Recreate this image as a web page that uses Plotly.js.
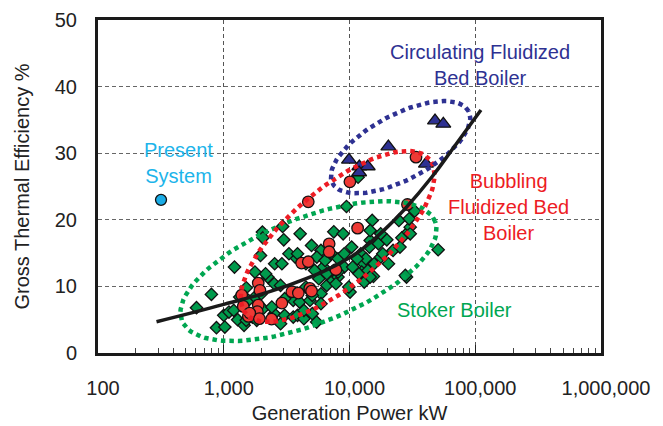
<!DOCTYPE html>
<html>
<head>
<meta charset="utf-8">
<script src="https://cdn.plot.ly/plotly-3.0.1.min.js"></script>
<style>html,body{margin:0;padding:0;background:#fff;}#chart{width:663px;height:426px;}</style>
</head>
<body>
<div id="chart"></div>
<script>
// ---------- data ----------
const stokerX = [607, 798, 1217, 2030, 2050, 1960, 2940, 3000, 4050, 4990, 2540, 2900, 3700, 3300, 5930, 5500, 6200, 6600, 7400, 8100,
  7500, 8900, 9460, 10100, 10400, 12300, 13000, 13500, 15150, 14600, 15500, 13100, 12500, 14400, 17000, 19800, 22200, 20400, 24700, 26100,
  29300, 30400, 29800, 33000, 28400, 27800, 50700, 11700, 30400,
  875, 1020, 1000, 1100, 1290, 1450, 1510, 1510, 1570, 1770, 1990, 2240, 2520, 2830, 2520, 2830, 3050, 3570, 3860, 4340,
  5060, 5480, 4340, 3570, 3050, 4010, 5930, 5930, 4850, 5060, 4500, 2150, 1770, 1340, 1200, 2050, 2410, 1690, 1830,
  4500, 3860, 5280, 6400, 7200, 8100, 9080, 9080, 8100, 6600, 7800, 5700, 11500, 10600, 11900, 14000, 15700, 17700, 18400, 9870,
  14600, 14600, 17700, 25200];
const stokerY = [6.8, 8.8, 12.9, 18.15, 17.3, 14.65, 19, 17, 17.9, 16.15, 13.4, 13.4, 14.4, 14.9, 15.4, 14.4, 12.9, 10.15, 10.9, 11.4,
  18.2, 17.9, 22, 9.15, 15.9, 14.9, 13.4, 14.15, 19.9, 16.9, 11.5, 10.65, 12.15, 15.9, 16.4, 17, 15.4, 13.4, 19.9, 17.3,
  18.15, 18.9, 20.15, 21.3, 11.4, 11.65, 15.5, 26.4, 17.9,
  3.8, 3.9, 5.65, 6.15, 5.0, 4.15, 4.9, 9.8, 7.9, 8.4, 8.9, 11.4, 10.4, 10.15, 5.9, 4.4, 5.65, 5.4, 5.65, 5.15,
  5.9, 4.65, 6.4, 7.9, 8.15, 7.65, 8.9, 7.4, 7.9, 8.65, 9.9, 11.9, 12.15, 8.4, 6.4, 6.65, 6.9, 5.4, 4.9,
  13.4, 14.9, 12.4, 13.9, 14.9, 14.15, 14.9, 12.9, 12.15, 11.9, 10.4, 11.15, 14.15, 12.9, 11.9, 12.4, 13.4, 14.4, 14.9, 9.9,
  11.4, 18.4, 17.9, 15.9];

const bubblingX = [33800, 10070, 4700, 28900, 11600, 6890, 6890, 7800, 4160, 4700, 1880, 1940, 1390, 3480, 3920, 4830, 4990,
  2900, 1880, 1850, 1570, 1920, 2400, 1430, 1610];
const bubblingY = [29.4, 25.7, 22.7, 22.3, 18.75, 16.4, 15.2, 12.5, 13.5, 13.7, 10.5, 9.4, 8.7, 9.2, 9.0, 9.7, 9.3,
  7.5, 7.2, 6.2, 5.5, 5.15, 5.1, 7.0, 6.0];

const circulatingX = [9910, 11970, 13960, 11920, 20370, 40540, 47860, 55720];
const circulatingY = [29.0, 28.0, 28.0, 27.1, 31.0, 28.4, 34.9, 34.4];

const presentX = [317];
const presentY = [23];

const fitX = [292, 1000, 3030, 10230, 19200, 27800, 45500, 65800, 111000];
const fitY = [4.7, 7.3, 9.95, 14.4, 18.6, 21.7, 26.5, 30.6, 36.5];

// group ellipses: centre (x in kW, y in %), semi-axes in pixels, tilt in degrees
const ellipseNames = ['Stoker', 'Bubbling', 'Circulating'];
const ellipseCX = [4720, 8040, 25470];
const ellipseCY = [12.3, 17.5, 30.9];
const ellipseA = [136, 120, 77];
const ellipseB = [53, 48, 32.5];
const ellipseAngle = [21.4, 40, 28];

const xTickVals = [100, 1000, 10000, 100000, 1000000];
const xTickText = ['100', '1,000', '10,000', '100,000', '1,000,000'];
const yTickVals = [0, 10, 20, 30, 40, 50];

// ---------- layout / styling ----------
const W = 663, H = 426;
const margin = {l: 98, r: 62, t: 20, b: 73};
const plotW = W - margin.l - margin.r, plotH = H - margin.t - margin.b;
const xRange = [2, 6], yRange = [0, 50];
const pxPerDecade = plotW / (xRange[1] - xRange[0]);
const pxPerUnit = plotH / (yRange[1] - yRange[0]);

const GREEN = '#00a651', RED = '#ed1c24', BLUE = '#2e3192', CYAN = '#1cb4ea';
const ellipseColors = [GREEN, RED, BLUE];

function ellipseTrace(i) {
  const xs = [], ys = [];
  const th = ellipseAngle[i] * Math.PI / 180;
  const lc = Math.log10(ellipseCX[i]);
  for (let k = 0; k <= 120; k++) {
    const t = 2 * Math.PI * k / 120;
    const u = ellipseA[i] * Math.cos(t), v = ellipseB[i] * Math.sin(t);
    const dxp = u * Math.cos(th) - v * Math.sin(th);   // pixels, right positive
    const dyp = u * Math.sin(th) + v * Math.cos(th);   // pixels, up positive
    xs.push(Math.pow(10, lc + dxp / pxPerDecade));
    ys.push(ellipseCY[i] + dyp / pxPerUnit);
  }
  return {x: xs, y: ys, mode: 'lines', type: 'scatter', name: ellipseNames[i], hoverinfo: 'skip',
    line: {color: ellipseColors[i], width: 4.5, dash: '4.5px,4px'}};
}

const traces = [
  {x: stokerX, y: stokerY, mode: 'markers', type: 'scatter', name: 'Stoker Boiler',
    marker: {symbol: 'diamond', size: 9.5, color: '#009a4c', line: {color: '#111', width: 1.3}}},
  {x: bubblingX, y: bubblingY, mode: 'markers', type: 'scatter', name: 'Bubbling Fluidized Bed Boiler',
    marker: {symbol: 'circle', size: 11.5, color: '#ee3a35', line: {color: '#111', width: 1.3}}},
  {x: circulatingX, y: circulatingY, mode: 'markers', type: 'scatter', name: 'Circulating Fluidized Bed Boiler',
    marker: {symbol: 'triangle-up', size: 13, color: '#2e3192', line: {color: '#111', width: 1.3}}},
  {x: presentX, y: presentY, mode: 'markers', type: 'scatter', name: 'Present System',
    marker: {symbol: 'circle', size: 11, color: '#1aace6', line: {color: '#111', width: 1.3}}},
  ellipseTrace(0), ellipseTrace(1), ellipseTrace(2),
  {x: fitX, y: fitY, mode: 'lines', type: 'scatter', name: 'fit', line: {color: '#1a1a1a', width: 3.5, shape: 'spline', smoothing: 1.2}}
];

const FONT = 'Liberation Sans, Arial, sans-serif';
const layout = {
  width: W, height: H, margin: margin,
  paper_bgcolor: '#fff', plot_bgcolor: '#fff',
  showlegend: false,
  font: {family: FONT, size: 20, color: '#222'},
  xaxis: {
    type: 'log', range: xRange, tickmode: 'array', tickvals: xTickVals, ticktext: xTickText,
    ticks: 'inside', ticklen: 8, tickcolor: '#222', tickwidth: 1,
    minor: {ticks: 'inside', ticklen: 5, tickcolor: '#444', dtick: 'D1', showgrid: false},
    showgrid: true, gridcolor: '#555', griddash: '4px,3px', gridwidth: 1,
    showline: true, linecolor: '#1a1a1a', linewidth: 3, mirror: true,
    ticklabelshift: 5, ticklabelstandoff: 15,
    title: {text: 'Generation Power kW', font: {size: 20, color: '#222'}, standoff: 8},
    zeroline: false
  },
  yaxis: {
    range: yRange, tickmode: 'array', tickvals: yTickVals, ticks: '',
    showgrid: true, gridcolor: '#666', griddash: '4px,3px', gridwidth: 1,
    showline: true, linecolor: '#1a1a1a', linewidth: 3, mirror: true,
    ticklabelstandoff: 14,
    title: {text: 'Gross Thermal Efficiency %', font: {size: 20, color: '#222'}, standoff: 20},
    zeroline: false
  },
  annotations: [
    {xref: 'paper', yref: 'paper', x: 0.759, y: 0.866, text: 'Circulating Fluidized<br>Bed Boiler', showarrow: false,
      font: {size: 20, color: BLUE}, align: 'center', xanchor: 'center', yanchor: 'middle'},
    {xref: 'paper', yref: 'paper', x: 0.161, y: 0.572, text: 'Present<br>System', showarrow: false,
      font: {size: 20, color: CYAN}, align: 'center', xanchor: 'center', yanchor: 'middle'},
    {xref: 'paper', yref: 'paper', x: 0.817, y: 0.439, text: 'Bubbling<br>Fluidized Bed<br>Boiler', showarrow: false,
      font: {size: 20, color: RED}, align: 'center', xanchor: 'center', yanchor: 'middle'},
    {xref: 'paper', yref: 'paper', x: 0.708, y: 0.129, text: 'Stoker Boiler', showarrow: false,
      font: {size: 20, color: GREEN}, align: 'center', xanchor: 'center', yanchor: 'middle'}
  ]
};

Plotly.newPlot('chart', traces, layout, {staticPlot: true, displayModeBar: false});
</script>
</body>
</html>
